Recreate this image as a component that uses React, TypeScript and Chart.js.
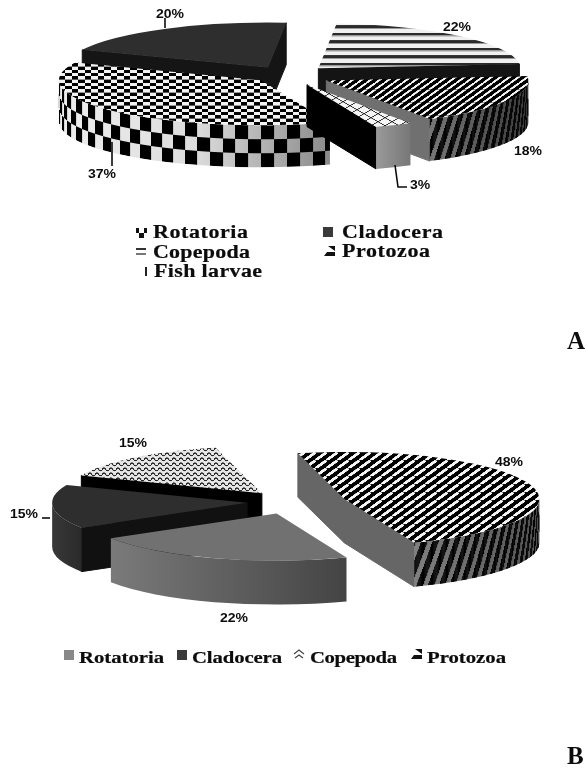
import React, { useEffect, useRef } from "react";
import { Chart, registerables } from "chart.js";

Chart.register(...registerables);

// ---- data ----
const categoriesA = ["Rotatoria", "Cladocera", "Copepoda", "Protozoa", "Fish larvae"];
const valuesA = [37, 20, 22, 18, 3];
const categoriesB = ["Rotatoria", "Cladocera", "Copepoda", "Protozoa"];
const valuesB = [22, 15, 15, 48];
const explodeA = [47, 49, 36, 34, 28];
const explodeB = [42, 43, 43, 57];

// ---- layout ----
const nudgeA = [[0, -2], [-2, 2], [-2, -1], [1, 2], [0, 4]];
const nudgeB = [[0, 1], [0, -1], [0, -2], [0, 0]];
const labelPosA = [[102, 173], [170, 13], [457, 26], [528, 150], [420, 184]];
const labelPosB = [[234, 617], [24, 513], [133, 442], [509, 461]];
const leadersA = [[[112, 142], [112, 166]], [[165, 18], [165, 28]], [[395, 165], [398, 187], [407, 187]]];
const leadersB = [[[42, 518], [50, 518]]];
const legendA = [
  { x: 153, y: 238, w: 95, key: "checkerU", kx: 136, ky: 228 },
  { x: 342, y: 238, w: 101, key: "solid", kx: 323, ky: 227 },
  { x: 153, y: 258, w: 97, key: "stripe", kx: 136, ky: 248 },
  { x: 342, y: 257, w: 88, key: "tri", kx: 324, ky: 246 },
  { x: 154, y: 277, w: 108, key: "line", kx: 145, ky: 267 },
];
const legendB = [
  { x: 79, y: 663, w: 85, key: "grey", kx: 64, ky: 650 },
  { x: 192, y: 663, w: 90, key: "solid", kx: 177, ky: 650 },
  { x: 310, y: 663, w: 87, key: "wave", kx: 293, ky: 649 },
  { x: 427, y: 663, w: 79, key: "tri", kx: 411, ky: 649 },
];

type Wall = { radial: string; curve: string[]; texture?: string };
const wallsA: Wall[] = [
  { radial: "#111111", curve: ["#eeeeee", "#dddddd", "#8a8a8a"], texture: "checker" },
  { radial: "#151515", curve: ["#333333", "#2a2a2a"] },
  { radial: "#141414", curve: ["#222222", "#222222"] },
  { radial: "#707070", curve: ["#777777", "#3c3c3c"], texture: "diag" },
  { radial: "#000000", curve: ["#9a9a9a", "#777777"] },
];
const wallsB: Wall[] = [
  { radial: "#666666", curve: ["#7a7a7a", "#444444"] },
  { radial: "#111111", curve: ["#383838", "#2a2a2a"] },
  { radial: "#000000", curve: ["#222222", "#222222"] },
  { radial: "#666666", curve: ["#808080", "#555555"], texture: "diag" },
];

const panelA = { top: 0, height: 385, cx: 295, cy: 75, radius: 202, tilt: 0.223, depth: 42, rotation: 160 };
const panelB = { top: 385, height: 386, cx: 290, cy: 503, radius: 195, tilt: 0.241, depth: 44, rotation: 159 };

function makePattern(w: number, h: number, tilt: number, draw: (c: CanvasRenderingContext2D) => void) {
  const ss = 4;
  const tile = document.createElement("canvas");
  tile.width = Math.round(w * ss);
  tile.height = Math.round(h * ss);
  const c = tile.getContext("2d")!;
  c.scale(ss, ss);
  draw(c);
  const p = c.createPattern(tile, "repeat")!;
  p.setTransform(new DOMMatrix().scale(1 / ss, 1 / (ss * tilt)));
  return p;
}

const checkerTop = (k: number) =>
  makePattern(13, 6.5, k, (c) => {
    c.fillStyle = "#f2f2f2";
    c.fillRect(0, 0, 13, 6.5);
    c.fillStyle = "#000";
    c.fillRect(0, 0, 6.5, 3.25);
    c.fillRect(6.5, 3.25, 6.5, 3.25);
  });
const stripeTop = (k: number) =>
  makePattern(4, 7.5, k, (c) => {
    c.fillStyle = "#f0f0f0";
    c.fillRect(0, 0, 4, 7.5);
    c.fillStyle = "#2a2a2a";
    c.fillRect(0, 0, 4, 2.3);
    c.fillStyle = "#999";
    c.fillRect(0, 2.3, 4, 1.3);
  });
const diagTop = (k: number, w: number, h: number, lw: number) =>
  makePattern(w, h, k, (c) => {
    c.fillStyle = "#000";
    c.fillRect(0, 0, w, h);
    c.strokeStyle = "#f4f4f4";
    c.lineWidth = lw;
    for (const o of [-w, 0, w]) {
      c.beginPath();
      c.moveTo(o, h);
      c.lineTo(o + w, 0);
      c.stroke();
    }
  });
const hatchTop = (k: number) =>
  makePattern(14, 8, k, (c) => {
    c.fillStyle = "#f6f6f6";
    c.fillRect(0, 0, 14, 8);
    c.strokeStyle = "#222";
    c.lineWidth = 0.8;
    c.beginPath();
    c.moveTo(0, 8);
    c.lineTo(14, 0);
    c.moveTo(0, 0);
    c.lineTo(14, 8);
    c.stroke();
  });
const waveTop = (k: number) =>
  makePattern(7, 5, k, (c) => {
    c.fillStyle = "#e6e6e6";
    c.fillRect(0, 0, 7, 5);
    c.strokeStyle = "#2b2b2b";
    c.lineWidth = 1.2;
    c.beginPath();
    c.moveTo(0, 3.4);
    c.quadraticCurveTo(1.75, -0.2, 3.5, 2.5);
    c.quadraticCurveTo(5.25, 5.2, 7, 3.4);
    c.stroke();
  });

function drawKey(ctx: CanvasRenderingContext2D, kind: string, x: number, y: number) {
  ctx.save();
  if (kind === "solid" || kind === "grey") {
    ctx.fillStyle = kind === "solid" ? "#3a3a3a" : "#888888";
    ctx.fillRect(x, y, 10, 10);
  } else if (kind === "checkerU") {
    ctx.fillStyle = "#111";
    ctx.fillRect(x, y, 3, 5);
    ctx.fillRect(x + 8, y, 3, 5);
    ctx.fillRect(x + 3, y + 5, 5, 5);
  } else if (kind === "stripe") {
    ctx.fillStyle = "#333";
    ctx.fillRect(x, y, 10, 2);
    ctx.fillStyle = "#777";
    ctx.fillRect(x, y + 5, 10, 2);
  } else if (kind === "tri") {
    ctx.fillStyle = "#111";
    ctx.beginPath();
    ctx.moveTo(x, y + 10);
    ctx.lineTo(x + 11, y + 10);
    ctx.lineTo(x + 11, y + 6);
    ctx.lineTo(x + 3, y + 6);
    ctx.closePath();
    ctx.fill();
    ctx.beginPath();
    ctx.moveTo(x + 11, y);
    ctx.lineTo(x + 4, y);
    ctx.lineTo(x + 11, y + 5);
    ctx.closePath();
    ctx.fill();
  } else if (kind === "line") {
    ctx.fillStyle = "#222";
    ctx.fillRect(x, y, 2, 9);
  } else if (kind === "wave") {
    ctx.strokeStyle = "#444";
    ctx.lineWidth = 1.2;
    ctx.beginPath();
    ctx.moveTo(x + 1, y + 5);
    ctx.lineTo(x + 6, y + 1);
    ctx.lineTo(x + 11, y + 5);
    ctx.moveTo(x + 2, y + 9);
    ctx.lineTo(x + 6, y + 6);
    ctx.lineTo(x + 10, y + 9);
    ctx.stroke();
  }
  ctx.restore();
}

function stretchedText(
  ctx: CanvasRenderingContext2D,
  text: string,
  x: number,
  y: number,
  font: string,
  width: number,
  stretch: number,
  align: "left" | "center" = "left",
  heavy = 0,
) {
  ctx.save();
  ctx.font = font;
  ctx.fillStyle = "#0c0c0c";
  ctx.strokeStyle = "#0c0c0c";
  ctx.lineWidth = heavy;
  (ctx as any).letterSpacing = "0px";
  const w = ctx.measureText(text).width;
  const spacing = width ? (width / stretch - w) / Math.max(text.length - 1, 1) : 0;
  (ctx as any).letterSpacing = `${spacing}px`;
  const total = width || w * stretch;
  ctx.translate(align === "center" ? x - total / 2 : x, y);
  ctx.scale(stretch, 1);
  ctx.textAlign = "left";
  ctx.textBaseline = "alphabetic";
  ctx.fillText(text, 0, 0);
  if (heavy) ctx.strokeText(text, 0, 0);
  ctx.restore();
}

function drawWalls(ctx: CanvasRenderingContext2D, arc: any, wall: Wall, tx: number, ty: number, k: number, d: number) {
  const R = arc.outerRadius;
  const a0 = arc.startAngle;
  const a1 = arc.endAngle;
  const ry = R * k;
  const radial = (a: number) => {
    const ex = tx + Math.cos(a) * R;
    const ey = ty + Math.sin(a) * ry;
    ctx.fillStyle = wall.radial;
    ctx.strokeStyle = wall.radial;
    ctx.lineWidth = 1;
    ctx.beginPath();
    ctx.moveTo(tx, ty);
    ctx.lineTo(ex, ey);
    ctx.lineTo(ex, ey + d);
    ctx.lineTo(tx, ty + d);
    ctx.closePath();
    ctx.fill();
    ctx.stroke();
  };
  if (Math.cos(a0) < 0) radial(a0);
  if (Math.cos(a1) > 0) radial(a1);

  const TAU = Math.PI * 2;
  for (let n = -2; n <= 2; n++) {
    const lo = Math.max(a0, TAU * n);
    const hi = Math.min(a1, TAU * n + Math.PI);
    if (hi <= lo) continue;
    const xa = tx + Math.cos(lo) * R;
    const xb = tx + Math.cos(hi) * R;
    const xMin = Math.min(xa, xb);
    const xMax = Math.max(xa, xb);
    ctx.save();
    ctx.beginPath();
    ctx.ellipse(tx, ty, R, ry, 0, lo, hi, false);
    ctx.ellipse(tx, ty + d, R, ry, 0, hi, lo, true);
    ctx.closePath();
    const grad = ctx.createLinearGradient(xMin, 0, xMax, 0);
    wall.curve.forEach((col, i) => grad.addColorStop(i / (wall.curve.length - 1), col));
    ctx.fillStyle = grad;
    ctx.fill();
    if (wall.texture) {
      ctx.clip();
      ctx.fillStyle = "#000";
      for (let x = Math.floor(xMin); x <= Math.ceil(xMax); x++) {
        const q = Math.max(-1, Math.min(1, (x - tx) / R));
        const u = R * Math.asin(q);
        const yTop = ty + ry * Math.sqrt(1 - q * q);
        if (wall.texture === "checker") {
          const ch = d / 3;
          for (let r = 0; r < 3; r++) {
            if ((Math.floor(u / 13) + r) % 2 === 0) ctx.fillRect(x, yTop + r * ch, 1.1, ch);
          }
        } else {
          for (let v = 0; v < d; v++) {
            const f = (u + v * 0.42) / 13;
            if (f - Math.floor(f) < 0.55) ctx.fillRect(x, yTop + v, 1.1, 1.1);
          }
        }
      }
    }
    ctx.restore();
  }
}

const pie3d = {
  id: "pie3d",
  beforeDatasetsDraw(chart: any, _args: any, opts: any) {
    const { panel, explode, nudge, walls, labels, positions, leaders, legend, letter } = opts;
    const ctx: CanvasRenderingContext2D = chart.ctx;
    const k = panel.tilt;
    const arcs: any[] = chart.getDatasetMeta(0).data;
    ctx.save();
    ctx.translate(0, -panel.top);
    const order = arcs
      .map((arc, i) => ({ arc, i, mid: (arc.startAngle + arc.endAngle) / 2 }))
      .sort((p, q) => Math.sin(p.mid) - Math.sin(q.mid));
    for (const { arc, i, mid } of order) {
      const tx = panel.cx + Math.cos(mid) * explode[i] + nudge[i][0];
      const ty = panel.cy + Math.sin(mid) * explode[i] * k + nudge[i][1];
      drawWalls(ctx, arc, walls[i], tx, ty, k, panel.depth);
      ctx.save();
      ctx.translate(tx, ty);
      ctx.scale(1, k);
      ctx.translate(-arc.x, -arc.y);
      arc.draw(ctx);
      ctx.restore();
    }
    ctx.strokeStyle = "#0c0c0c";
    ctx.lineWidth = 1.6;
    for (const line of leaders) {
      ctx.beginPath();
      line.forEach((p: number[], j: number) => (j ? ctx.lineTo(p[0], p[1]) : ctx.moveTo(p[0], p[1])));
      ctx.stroke();
    }
    const values = chart.data.datasets[0].data;
    values.forEach((v: number, i: number) => {
      const text = `${v}%`;
      stretchedText(ctx, text, positions[i][0], positions[i][1] + 4.5, 'bold 12.5px "Liberation Sans"', 0, 1.12, "center");
    });
    labels.forEach((name: string, i: number) => {
      const e = legend[i];
      drawKey(ctx, e.key, e.kx, e.ky);
      stretchedText(ctx, name, e.x, e.y, opts.legendFont, e.w, 1.22, "left", 0.2);
    });
    stretchedText(ctx, letter.text, letter.x, letter.y, 'bold 25px "Liberation Serif"', 0, 1);
    ctx.restore();
    return false;
  },
};

function usePie(
  ref: React.RefObject<HTMLCanvasElement | null>,
  panel: typeof panelA,
  labels: string[],
  values: number[],
  fills: (k: number) => any[],
  extra: any,
) {
  useEffect(() => {
    const chart = new Chart(ref.current!, {
      type: "pie",
      data: {
        labels,
        datasets: [
          {
            data: values,
            backgroundColor: fills(panel.tilt),
            borderWidth: 0,
            radius: panel.radius,
            rotation: panel.rotation,
          } as any,
        ],
      },
      options: {
        responsive: false,
        animation: false,
        devicePixelRatio: 1,
        events: [],
        plugins: {
          legend: { display: false },
          tooltip: { enabled: false },
          pie3d: { panel, labels, ...extra },
        } as any,
      },
      plugins: [pie3d as any],
    });
    return () => chart.destroy();
  }, []);
}

const canvasStyle = (top: number): React.CSSProperties => ({
  position: "absolute",
  left: 0,
  top,
  display: "block",
  filter: "blur(0.4px)",
});

export default function App() {
  const refA = useRef<HTMLCanvasElement>(null);
  const refB = useRef<HTMLCanvasElement>(null);
  usePie(refA, panelA, categoriesA, valuesA, (k) => [checkerTop(k), "#2e2e2e", stripeTop(k), diagTop(k, 9, 6.5, 2), hatchTop(k)], {
    explode: explodeA,
    nudge: nudgeA,
    walls: wallsA,
    positions: labelPosA,
    leaders: leadersA,
    legend: legendA,
    legendFont: 'bold 18px "Liberation Serif"',
    letter: { text: "A", x: 567, y: 349 },
  });
  usePie(refB, panelB, categoriesB, valuesB, (k) => ["#717171", "#2e2e2e", waveTop(k), diagTop(k, 11, 8, 2.8)], {
    explode: explodeB,
    nudge: nudgeB,
    walls: wallsB,
    positions: labelPosB,
    leaders: leadersB,
    legend: legendB,
    legendFont: 'bold 17px "Liberation Serif"',
    letter: { text: "B", x: 567, y: 764 },
  });
  return (
    <>
      <canvas ref={refA} width={586} height={panelA.height} style={canvasStyle(panelA.top)} />
      <canvas ref={refB} width={586} height={panelB.height} style={canvasStyle(panelB.top)} />
    </>
  );
}
